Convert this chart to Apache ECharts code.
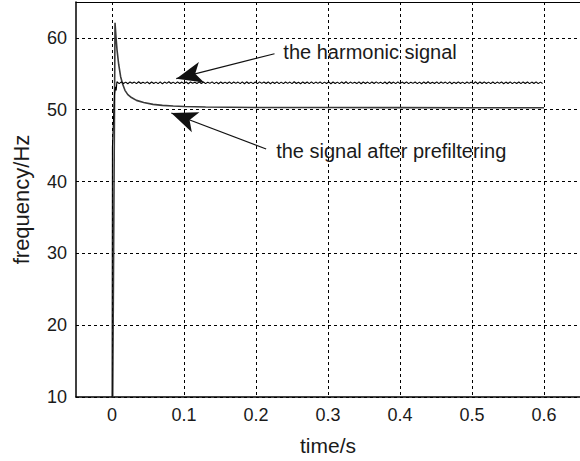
<!DOCTYPE html>
<html>
<head>
<meta charset="utf-8">
<script src="https://cdn.jsdelivr.net/npm/echarts@6/dist/echarts.min.js"></script>
<style>
  html, body { margin: 0; padding: 0; background: #fff; }
  #chart { width: 580px; height: 461px; }
</style>
</head>
<body>
<div id="chart"></div>
<script>
// Axis ticks
const xTicks = [0, 0.1, 0.2, 0.3, 0.4, 0.5, 0.6];
const yTicks = [10, 20, 30, 40, 50, 60];

// Start-up transient of the harmonic signal: [time s, frequency Hz]
const harmonicHead = [
  [0.0, 0], [0.0006, 44.8], [0.0035, 52.2], [0.0048, 53.2],
  [0.0058, 52.7], [0.0068, 53.9]
];
// Steady-state estimate of the harmonic signal, sampled every 3 ms from 7 ms
const harmonicStart = 0.007;
const harmonicStep = 0.003;
const harmonicValues = [
  53.86,53.64,53.88,53.66,53.84,53.62,53.87,53.68,53.85,53.63,
  53.89,53.65,53.83,53.67,53.88,53.62,53.86,53.66,53.84,53.64,
  53.87,53.61,53.85,53.67,53.89,53.65,53.84,53.63,53.88,53.66,
  53.85,53.64,53.87,53.62,53.86,53.68,53.83,53.64,53.89,53.65,
  53.86,53.63,53.84,53.67,53.88,53.64,53.85,53.62,53.87,53.66,
  53.84,53.65,53.88,53.63,53.86,53.67,53.85,53.64,53.87,53.62,
  53.89,53.66,53.84,53.64,53.86,53.63,53.88,53.67,53.85,53.65,
  53.87,53.62,53.85,53.66,53.88,53.64,53.84,53.63,53.86,53.67,
  53.85,53.64,53.89,53.65,53.83,53.62,53.87,53.66,53.86,53.64,
  53.88,53.63,53.85,53.67,53.87,53.64,53.84,53.65,53.88,53.62,
  53.86,53.66,53.84,53.63,53.87,53.65,53.89,53.64,53.85,53.67,
  53.83,53.64,53.88,53.62,53.86,53.66,53.85,53.63,53.87,53.65,
  53.88,53.67,53.84,53.64,53.86,53.62,53.89,53.66,53.85,53.63,
  53.87,53.64,53.85,53.66,53.88,53.63,53.84,53.67,53.86,53.64,
  53.85,53.62,53.87,53.65,53.89,53.64,53.83,53.66,53.88,53.63,
  53.86,53.67,53.85,53.64,53.87,53.62,53.84,53.65,53.88,53.66,
  53.84,53.63,53.86,53.67,53.85,53.64,53.89,53.62,53.87,53.65,
  53.88,53.66,53.84,53.63,53.86,53.64,53.85,53.67,53.87,53.62,
  53.85,53.65,53.88,53.64,53.84,53.66,53.86,53.63,53.87,53.65,
  53.86,53.64,53.85,53.66,53.88,53.63,53.84,53.65
];

// Frequency estimate after prefiltering: [time s, frequency Hz]
const prefiltered = [
  [0.0004, 0], [0.0042, 62.1], [0.0055, 60.2], [0.007, 58.3],
  [0.0093, 56.3], [0.012, 54.6], [0.015, 53.5], [0.018, 52.7],
  [0.022, 52.1], [0.027, 51.7], [0.034, 51.3], [0.044, 51.0],
  [0.057, 50.75], [0.07, 50.6], [0.085, 50.52], [0.1, 50.45],
  [0.13, 50.38], [0.2, 50.32], [0.3, 50.3], [0.4, 50.29],
  [0.5, 50.28], [0.6, 50.28]
];

// Annotations: text, text anchor, arrow tail, arrow tip (data coordinates)
const noteTexts = ['the harmonic signal', 'the signal after prefiltering'];
const noteAnchors = [[0.238, 58.1], [0.228, 44.3]];
const arrowTails = [[0.2257, 57.8], [0.2141, 44.54]];
const arrowTips = [[0.0893, 54.33], [0.0824, 49.55]];

const harmonic = harmonicHead.concat(
  harmonicValues.map((v, i) => [harmonicStart + i * harmonicStep, v])
);

const FONT = '"Liberation Sans", Arial, Helvetica, sans-serif';
const INK = '#1a1a1a';
const X_MIN = -0.05, X_MAX = 0.65;

const chart = echarts.init(document.getElementById('chart'), null, { renderer: 'svg' });

chart.setOption({
  animation: false,
  backgroundColor: '#fff',
  textStyle: { fontFamily: FONT, color: INK },
  grid: { left: 76, right: -1, top: 2, bottom: 63.5, show: false },
  xAxis: [
    {
      type: 'value', min: X_MIN, max: X_MAX,
      name: 'time/s', nameLocation: 'middle', nameGap: 38,
      nameTextStyle: { fontFamily: FONT, fontSize: 21, color: INK },
      axisLine: { show: true, onZero: false, lineStyle: { color: '#000', width: 1.5 } },
      axisTick: { show: false, customValues: xTicks },
      axisLabel: { customValues: xTicks, fontFamily: FONT, fontSize: 18, color: INK, margin: 9 },
      splitLine: { show: true, lineStyle: { color: '#000', width: 1, type: [3, 3] } }
    },
    {
      // top frame line of the plot box
      type: 'value', min: X_MIN, max: X_MAX, position: 'top',
      axisLine: { show: true, onZero: false, lineStyle: { color: '#000', width: 1.2 } },
      axisTick: { show: false },
      axisLabel: { show: false },
      splitLine: { show: false }
    }
  ],
  yAxis: {
    type: 'value', min: 10, max: 65,
    name: 'frequency/Hz', nameLocation: 'middle', nameGap: 44,
    nameTextStyle: { fontFamily: FONT, fontSize: 22, color: INK },
    axisLine: { show: true, onZero: false, lineStyle: { color: '#000', width: 1.5 } },
    axisTick: { show: false, customValues: yTicks },
    axisLabel: { customValues: yTicks, fontFamily: FONT, fontSize: 18, color: INK, margin: 9 },
    splitLine: { show: true, lineStyle: { color: '#000', width: 1, type: [3, 3] } }
  },
  series: [
    {
      name: 'prefiltered',
      type: 'line',
      data: prefiltered,
      showSymbol: false,
      clip: true,
      lineStyle: { color: '#3a3a3a', width: 1.6 },
      z: 3
    },
    {
      name: 'harmonic',
      type: 'line',
      data: harmonic,
      showSymbol: false,
      clip: true,
      lineStyle: { color: '#000', width: 1.1 },
      z: 4,
      markLine: {
        silent: true,
        symbol: ['none', 'arrow'],
        symbolSize: [16, 26],
        lineStyle: { color: '#111', width: 1.2, type: 'solid' },
        itemStyle: { color: '#111' },
        label: { show: false },
        data: arrowTails.map((t, i) => [{ coord: t }, { coord: arrowTips[i] }])
      },
      markPoint: {
        silent: true,
        symbol: 'circle',
        symbolSize: 0,
        label: {
          show: true, position: 'right', distance: 0,
          formatter: p => p.name,
          fontFamily: FONT, fontSize: 20, color: INK
        },
        data: noteTexts.map((txt, i) => ({ name: txt, coord: noteAnchors[i] }))
      }
    }
  ]
});
</script>
</body>
</html>
